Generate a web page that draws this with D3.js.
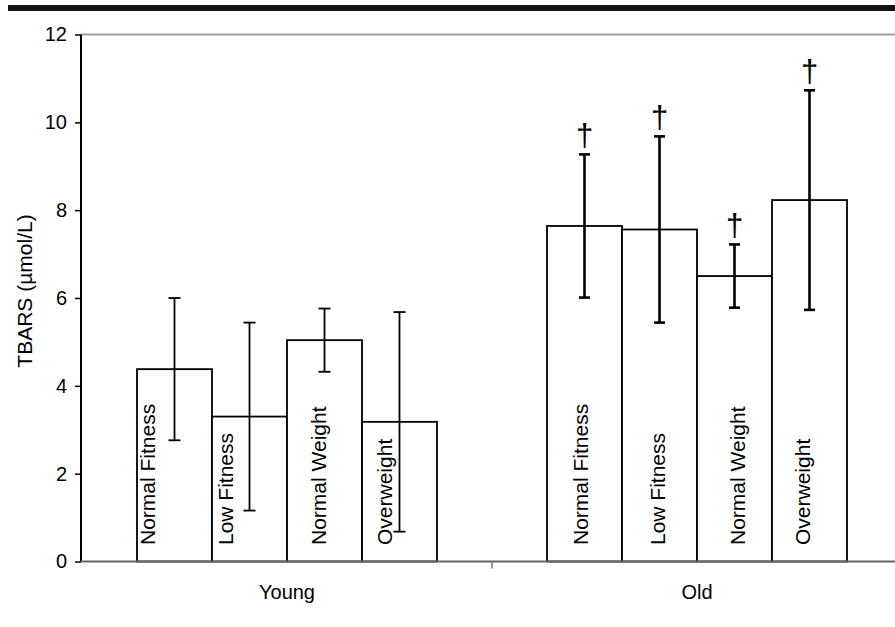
<!DOCTYPE html>
<html>
<head>
<meta charset="utf-8">
<script src="https://cdn.jsdelivr.net/npm/d3@7"></script>
<style>
  body { margin: 0; background: #fff; }
  text { font-family: "Liberation Sans", Arial, sans-serif; fill: #000; }
</style>
</head>
<body>
<div id="chart"></div>
<script>
const groups = ["Young", "Old"];
const subgroups = ["Normal Fitness", "Low Fitness", "Normal Weight", "Overweight"];
const youngMeans = [4.38, 3.30, 5.04, 3.18];
const youngErrors = [1.62, 2.14, 0.72, 2.5];
const oldMeans = [7.64, 7.56, 6.50, 8.23];
const oldErrors = [1.63, 2.12, 0.72, 2.5];
// † = different from young
const oldMarks = ["†", "†", "†", "†"];
const yTicks = [0, 2, 4, 6, 8, 10, 12];

// hand placed bar labels in the original, shift from bar centre (px)
const labelShift = { Young: [-27, -24, -6, -15], Old: [-4, -2.5, 2.5, -7.5] };

const width = 895, height = 627;
const svg = d3.select("#chart").append("svg")
  .attr("width", width)
  .attr("height", height);

// black rule at top
svg.append("rect")
  .attr("x", 8).attr("y", 5)
  .attr("width", width - 8).attr("height", 6)
  .attr("fill", "#111");

const axisX = 81;
const y = d3.scaleLinear().domain([0, 12]).range([561.5, 34.5]);
const x = d3.scaleBand().domain(groups).range([82, 902]);
const xSub = d3.scaleBand().domain(subgroups).range([55, 355]);

const rows = [];
groups.forEach((g, gi) => {
  const means = gi === 0 ? youngMeans : oldMeans;
  const errs = gi === 0 ? youngErrors : oldErrors;
  subgroups.forEach((s, si) => {
    rows.push({
      group: g, sub: s, mean: means[si], err: errs[si],
      mark: gi === 1 ? oldMarks[si] : "",
      shift: labelShift[g][si]
    });
  });
});

// top frame line
svg.append("line")
  .attr("x1", axisX).attr("x2", width)
  .attr("y1", y(12)).attr("y2", y(12))
  .attr("stroke", "#a0a0a0").attr("stroke-width", 2);

// bars
const bx = d => x(d.group) + xSub(d.sub);
svg.selectAll("rect.bar")
  .data(rows)
  .enter()
  .append("rect")
  .attr("class", "bar")
  .attr("x", bx)
  .attr("y", d => y(d.mean))
  .attr("width", xSub.bandwidth())
  .attr("height", d => y(0) - y(d.mean))
  .attr("fill", "#fff")
  .attr("stroke", "#000")
  .attr("stroke-width", 1.8);

// error bars
const eb = svg.selectAll("g.err")
  .data(rows)
  .enter()
  .append("g")
  .attr("class", "err")
  .attr("transform", d => `translate(${bx(d) + xSub.bandwidth() / 2},0)`)
  .attr("stroke", "#000")
  .attr("stroke-width", d => d.group === "Old" ? 2.6 : 1.8);

eb.append("line")
  .attr("y1", d => y(d.mean + d.err))
  .attr("y2", d => y(d.mean - d.err));
eb.append("line")
  .attr("x1", d => d.group === "Old" ? -5.5 : -6)
  .attr("x2", d => d.group === "Old" ? 5.5 : 6)
  .attr("y1", d => y(d.mean + d.err))
  .attr("y2", d => y(d.mean + d.err));
eb.append("line")
  .attr("x1", d => d.group === "Old" ? -5.5 : -6)
  .attr("x2", d => d.group === "Old" ? 5.5 : 6)
  .attr("y1", d => y(d.mean - d.err))
  .attr("y2", d => y(d.mean - d.err));

// daggers
svg.selectAll("text.mark")
  .data(rows.filter(d => d.mark))
  .enter()
  .append("text")
  .attr("class", "mark")
  .attr("x", d => bx(d) + xSub.bandwidth() / 2)
  .attr("y", d => y(d.mean + d.err) - 8)
  .attr("text-anchor", "middle")
  .style("font-size", "31px")
  .text(d => d.mark);

// bar labels
svg.selectAll("text.lab")
  .data(rows)
  .enter()
  .append("text")
  .attr("class", "lab")
  .attr("transform", d => `translate(${bx(d) + xSub.bandwidth() / 2 + d.shift + 7.5},545) rotate(-90)`)
  .style("font-size", "21px")
  .text(d => d.sub);

// y axis
const yAxis = svg.append("g")
  .attr("transform", `translate(${axisX},0)`)
  .call(d3.axisLeft(y).tickValues(yTicks).tickSize(6).tickPadding(8).tickFormat(d3.format("d")));
yAxis.select(".domain").attr("stroke", "#000").attr("stroke-width", 2)
  .attr("d", `M0,${y(12)}V${y(0)}`);
yAxis.selectAll(".tick line").attr("stroke", "#000").attr("stroke-width", 1.5);
yAxis.selectAll(".tick text")
  .style("font-size", "20px")
  .style("font-family", "'Liberation Sans', Arial, sans-serif");

// x axis
svg.append("line")
  .attr("x1", axisX).attr("x2", width)
  .attr("y1", y(0)).attr("y2", y(0))
  .attr("stroke", "#666").attr("stroke-width", 2);
svg.append("line")
  .attr("x1", x("Old")).attr("x2", x("Old"))
  .attr("y1", y(0)).attr("y2", y(0) + 7)
  .attr("stroke", "#777").attr("stroke-width", 1.5);

svg.selectAll("text.grp")
  .data(groups)
  .enter()
  .append("text")
  .attr("class", "grp")
  .attr("x", d => x(d) + x.bandwidth() / 2)
  .attr("y", 599)
  .attr("text-anchor", "middle")
  .style("font-size", "20px")
  .text(d => d);

// y title
svg.append("text")
  .attr("transform", "translate(32,291) rotate(-90)")
  .attr("text-anchor", "middle")
  .style("font-size", "21px")
  .text("TBARS (µmol/L)");
</script>
</body>
</html>
